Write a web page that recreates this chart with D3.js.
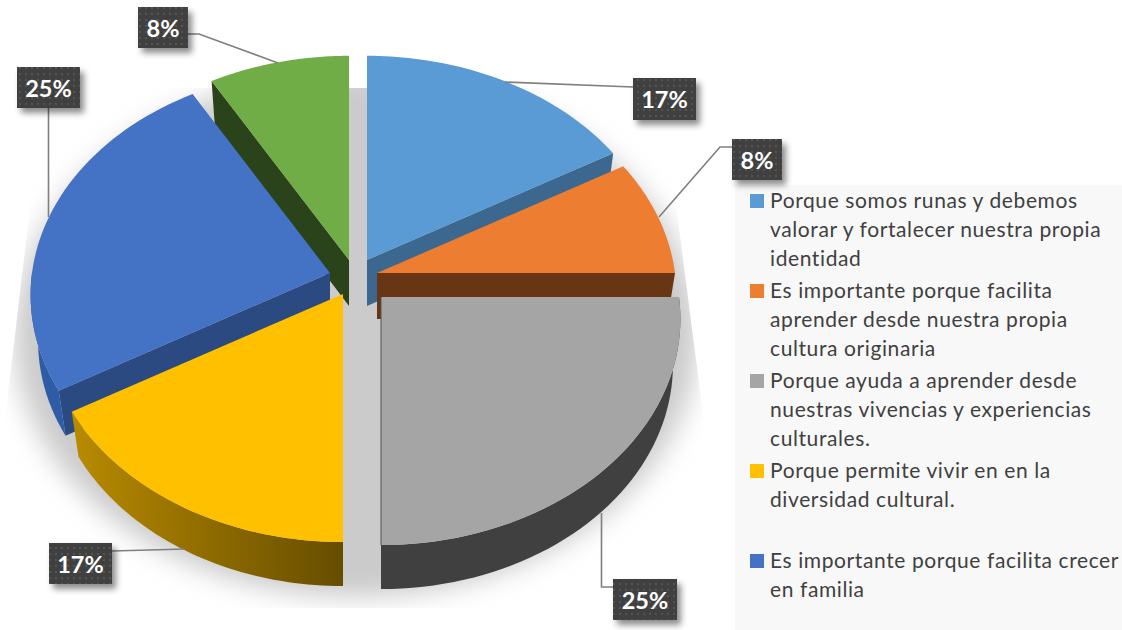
<!DOCTYPE html>
<html><head><meta charset="utf-8">
<script src="https://cdn.jsdelivr.net/npm/d3@7"></script>
<style>html,body{margin:0;padding:0;background:#fff;overflow:hidden}svg{display:block}</style>
</head><body><svg id="c" width="1122" height="630"></svg>
<script>
// ---- data ----
const categories = [
  ["Porque somos runas y debemos","valorar y fortalecer nuestra propia","identidad"],
  ["Es importante porque facilita","aprender desde nuestra propia","cultura originaria"],
  ["Porque ayuda a aprender desde","nuestras vivencias y experiencias","culturales."],
  ["Porque permite vivir en en la","diversidad cultural.",""],
  ["Es importante porque facilita crecer","en familia"]
];
const values = [16.67, 8.33, 25, 16.67, 25, 8.33];
const legendSlices = [0,1,2,3,4];
const topColors  = ["#5b9bd5","#ed7d31","#a5a5a5","#ffc000","#4472c4","#70ad47"];
const faceColors = ["#3c678e","#693615","#6e6e6e","#6b5000","#2c4a82","#2b431a"];
const wallColors = ["#3c678e","#693615","#404040","url(#yw)","#2f5ca6","#2b431a"];

// ---- layout ----
const centre = {x:355, y:278};
const explodeX = [12, 22, 26, -12, -25, -6];
const explodeY = [-18, -5, 19, 16, -5, -18];
const RX = 298, RY = 224, K = 0.097, DEPTH = 46, BX = 0.975, BY = 0.992;
const labelBoxes = [
  {i:0,x:633,y:78,w:63,h:42,lead:[[633,87],[505,82]]},
  {i:1,x:732,y:139,w:50,h:41,lead:[[732,147],[720,147],[659,217]]},
  {i:2,x:613,y:579,w:64,h:41,lead:[[613,587],[601.5,587],[601.5,513]]},
  {i:3,x:49,y:543,w:63,h:41,lead:[[112,551],[185,549]]},
  {i:4,x:17,y:67,w:63,h:41,lead:[[48.5,108],[48.5,217]]},
  {i:5,x:138,y:7,w:50,h:41,lead:[[188,34],[199,34],[278,63]]}
];

const svg = d3.select("#c");
const defs = svg.append("defs");
const line = d3.line();

const blur = defs.append("filter").attr("id","bl").attr("x","-20%").attr("y","-20%").attr("width","140%").attr("height","140%");
blur.append("feGaussianBlur").attr("stdDeviation",13);
const ds = defs.append("filter").attr("id","ds").attr("x","-30%").attr("y","-30%").attr("width","170%").attr("height","170%");
ds.append("feDropShadow").attr("dx",4).attr("dy",5).attr("stdDeviation",3).attr("flood-color","#000").attr("flood-opacity",.45);
const pat = defs.append("pattern").attr("id","dots").attr("width",6).attr("height",6).attr("patternUnits","userSpaceOnUse");
pat.append("rect").attr("width",6).attr("height",6).attr("fill","#3f3f3f");
pat.append("circle").attr("cx",2).attr("cy",2).attr("r",.9).attr("fill","#5d5d5d");
const yw = defs.append("linearGradient").attr("id","yw").attr("gradientUnits","userSpaceOnUse").attr("x1",75).attr("x2",342).attr("y1",0).attr("y2",0);
yw.append("stop").attr("offset",0).attr("stop-color","#b88a00");
yw.append("stop").attr("offset",1).attr("stop-color","#664d00");

// shadow: soft ellipse clipped to a trapezoid
defs.append("clipPath").attr("id","shclip").append("path")
  .attr("d",line([[44,88],[661,88],[707,445],[707,608],[5,608],[5,420]])+"Z");
svg.append("g").attr("clip-path","url(#shclip)").append("ellipse")
  .attr("cx",356).attr("cy",335).attr("rx",342).attr("ry",262)
  .attr("fill","#cbcbcb").attr("filter","url(#bl)");

// pie angles
const pie = d3.pie().sort(null).value(d=>d);
const arcs = pie(values);

const apex = i => [centre.x+explodeX[i], centre.y+explodeY[i]];
function proj(i,t,bottom){
  const [ax,ay] = apex(i);
  const p = 1/(1+K*Math.cos(t));
  const sx = RX*Math.sin(t)*p, sy = -RY*Math.cos(t)*p;
  return bottom ? [ax+sx*BX, ay+sy*BY+DEPTH] : [ax+sx, ay+sy];
}
const samples = (a,b) => d3.range(0,49).map(k=>a+(b-a)*k/48);

// back to front
const order = [5,0,1,4,3,2];
order.forEach(i=>{
  const a = arcs[i].startAngle, b = arcs[i].endAngle;
  const [ax,ay] = apex(i);
  const g = svg.append("g");
  [[a,Math.sin(a)<-0.01],[b,Math.sin(b)>0.01]].forEach(([t,vis])=>{
    if(!vis) return;
    g.append("path").attr("fill",faceColors[i])
      .attr("d",line([[ax,ay],proj(i,t),proj(i,t,true),[ax,ay+DEPTH]])+"Z");
  });
  const wa = Math.max(a,Math.PI/2), wb = Math.min(b,3*Math.PI/2);
  if(wb>wa){
    const s = samples(wa,wb);
    g.append("path").attr("fill",wallColors[i])
      .attr("d",line(s.map(t=>proj(i,t)).concat(s.slice().reverse().map(t=>proj(i,t,true))))+"Z");
  }
  g.append("path").attr("fill",topColors[i])
    .attr("d",line([[ax,ay]].concat(samples(a,b).map(t=>proj(i,t))))+"Z");
  if(Math.abs(Math.sin(b))<0.01 && Math.cos(b)<0){
    g.append("path").attr("fill","none").attr("stroke","#555").attr("stroke-width",1)
      .attr("d",line([[ax,ay],proj(i,b)]));
  }
});

// legend
svg.append("rect").attr("x",735).attr("y",185).attr("width",387).attr("height",445).attr("fill","#f8f8f8");
const LH = 29, ENTRY = 90;
categories.forEach((lines,k)=>{
  const base = 208 + k*ENTRY;
  svg.append("rect").attr("x",750).attr("y",base-14).attr("width",14).attr("height",14).attr("fill",topColors[legendSlices[k]]);
  lines.forEach((t,j)=>{
    if(!t) return;
    svg.append("text").attr("x",770).attr("y",base+j*LH)
      .attr("font-family","Lato, 'Open Sans', sans-serif").attr("font-size",21)
      .attr("letter-spacing",0.6).attr("fill","#404040").text(t);
  });
});

// data labels
const fmt = v => Math.round(v)+"%";
labelBoxes.forEach(l=>{
  svg.append("path").attr("fill","none").attr("stroke","#7f7f7f").attr("stroke-width",1.6).attr("d",line(l.lead));
});
labelBoxes.forEach(l=>{
  svg.append("rect").attr("x",l.x).attr("y",l.y).attr("width",l.w).attr("height",l.h)
    .attr("fill","url(#dots)").attr("filter","url(#ds)");
  svg.append("text").attr("x",l.x+l.w/2).attr("y",l.y+l.h/2+9).attr("text-anchor","middle")
    .attr("font-family","Lato, 'Open Sans', sans-serif").attr("font-weight",700).attr("font-size",23.5)
    .attr("fill","#fff").text(fmt(values[l.i]));
});
</script></body></html>
